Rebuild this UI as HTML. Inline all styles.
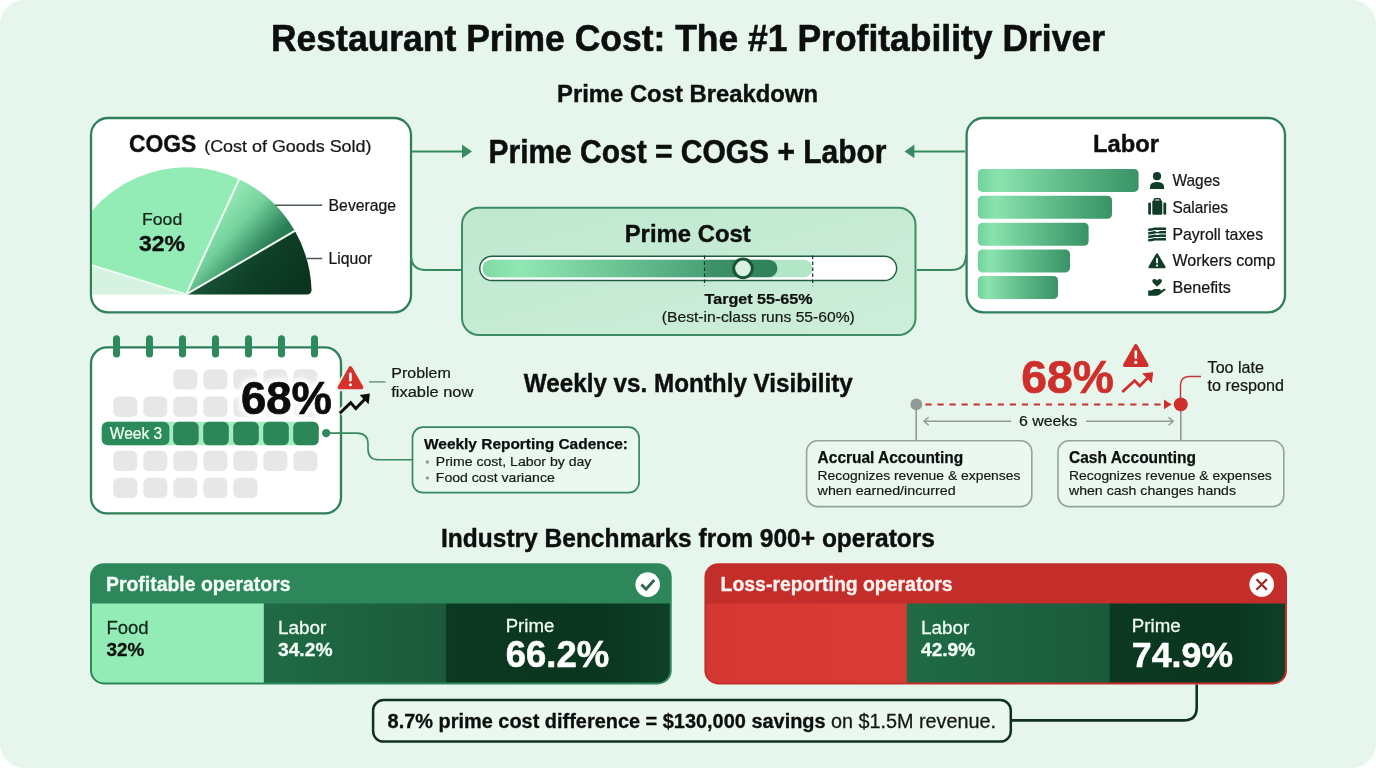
<!DOCTYPE html>
<html lang="en"><head><meta charset="utf-8"><title>Restaurant Prime Cost: The #1 Profitability Driver</title>
<style>
html,body{margin:0;padding:0;background:#fff;}
body{width:1376px;height:768px;overflow:hidden;font-family:"Liberation Sans",sans-serif;}
svg{display:block;}
svg text{font-family:"Liberation Sans",sans-serif;}
</style></head><body>
<svg width="1376" height="768" viewBox="0 0 1376 768">
<defs>
<linearGradient id="gBev" gradientUnits="userSpaceOnUse" x1="222" y1="211" x2="265" y2="251">
 <stop offset="0" stop-color="#8fe4b1"/><stop offset="0.4" stop-color="#74d19b"/><stop offset="0.8" stop-color="#3f976b"/><stop offset="1" stop-color="#2a7d54"/>
</linearGradient>
<linearGradient id="gLiq" gradientUnits="userSpaceOnUse" x1="225" y1="250" x2="290" y2="300">
 <stop offset="0" stop-color="#185337"/><stop offset="0.5" stop-color="#0e3e26"/><stop offset="1" stop-color="#0a3520"/>
</linearGradient>
<linearGradient id="gBar" x1="0" y1="0" x2="1" y2="0">
 <stop offset="0" stop-color="#70d39b"/><stop offset="0.13" stop-color="#8ae3ae"/><stop offset="0.55" stop-color="#5fbb89"/><stop offset="1" stop-color="#399366"/>
</linearGradient>
<linearGradient id="gPC" x1="0" y1="0" x2="1" y2="1">
 <stop offset="0" stop-color="#bfe8cf"/><stop offset="1" stop-color="#cdeeda"/>
</linearGradient>
<linearGradient id="gSl" gradientUnits="userSpaceOnUse" x1="482" y1="0" x2="778" y2="0">
 <stop offset="0" stop-color="#7fd8a3"/><stop offset="0.13" stop-color="#91e7b3"/><stop offset="0.75" stop-color="#4ba277"/><stop offset="0.76" stop-color="#3f946a"/><stop offset="1" stop-color="#2c7f56"/>
</linearGradient>
<filter id="fBlur" x="-20%" y="-30%" width="140%" height="160%"><feGaussianBlur stdDeviation="2.2"/></filter>
<linearGradient id="gLab" x1="0" y1="0" x2="1" y2="0"><stop offset="0" stop-color="#206b46"/><stop offset="1" stop-color="#1a5a3b"/></linearGradient>
<linearGradient id="gPri" x1="0" y1="0" x2="1" y2="0"><stop offset="0" stop-color="#0c3921"/><stop offset="0.65" stop-color="#0a351f"/><stop offset="1" stop-color="#0f4028"/></linearGradient>
<linearGradient id="gRed" x1="0" y1="0" x2="1" y2="0"><stop offset="0" stop-color="#d53732"/><stop offset="1" stop-color="#d93c35"/></linearGradient>
<clipPath id="cCogs"><rect x="92" y="119" width="318" height="192" rx="16"/></clipPath>
<clipPath id="cSl"><rect x="482" y="259" width="413" height="19.5" rx="9.75"/></clipPath>
<clipPath id="cProf"><rect x="92" y="565.2" width="577.7" height="117.2" rx="12"/></clipPath>
<clipPath id="cLoss"><rect x="706.4" y="565.2" width="578.6" height="117.2" rx="12"/></clipPath>
</defs>
<rect width="1376" height="768" fill="#ffffff"/>
<rect width="1376" height="768" rx="24" fill="#e7f6ed"/>
<text x="271" y="51.3" font-size="37" font-weight="700" fill="#0d0f0e" text-anchor="start" textLength="834" lengthAdjust="spacingAndGlyphs" stroke="#0d0f0e" stroke-width="0.59">Restaurant Prime Cost: The #1 Profitability Driver</text>
<text x="557" y="102.3" font-size="24.5" font-weight="700" fill="#0d0f0e" text-anchor="start" textLength="261" lengthAdjust="spacingAndGlyphs" stroke="#0d0f0e" stroke-width="0.39">Prime Cost Breakdown</text>
<rect x="91" y="118" width="320" height="194.3" rx="17" fill="#fff" stroke="#2f8059" stroke-width="2.3"/>
<g clip-path="url(#cCogs)"><g transform="translate(186.2 0) scale(0.987 1) translate(-186.2 0)">
<path d="M186.2,294.4 L64.65,257.24 A127.1,127.1 0 0 0 59.10,294.40 Z" fill="#d6f3e1"/>
<path d="M186.2,294.4 L239.91,179.21 A127.1,127.1 0 0 0 64.65,257.24 Z" fill="#93ebb6"/>
<path d="M186.2,294.4 L296.27,230.85 A127.1,127.1 0 0 0 239.91,179.21 Z" fill="url(#gBev)"/>
<path d="M186.2,294.4 L308.29999999999995,294.4 Q313.29999999999995,294.4 313.21,289.52 A127.1,127.1 0 0 0 296.27,230.85 Z" fill="url(#gLiq)"/>
<line x1="186.2" y1="294.4" x2="297.14" y2="230.35" stroke="#f0fbf4" stroke-width="2"/>
<line x1="186.2" y1="294.4" x2="240.34" y2="178.30" stroke="#f0fbf4" stroke-width="2"/>
<line x1="186.2" y1="294.4" x2="63.70" y2="256.95" stroke="#f0fbf4" stroke-width="2"/>
</g></g>
<text x="129" y="152.3" font-size="24" font-weight="700" fill="#0d0f0e" text-anchor="start" textLength="67.3" lengthAdjust="spacingAndGlyphs" stroke="#0d0f0e" stroke-width="0.38">COGS</text>
<text x="204.2" y="152.3" font-size="16.6" font-weight="400" fill="#141715" text-anchor="start" textLength="167.3" lengthAdjust="spacingAndGlyphs" stroke="#141715" stroke-width="0.23">(Cost of Goods Sold)</text>
<text x="142" y="224.9" font-size="16.6" font-weight="400" fill="#12251a" text-anchor="start" textLength="40.2" lengthAdjust="spacingAndGlyphs" stroke="#12251a" stroke-width="0.23">Food</text>
<text x="139" y="251" font-size="22.8" font-weight="700" fill="#0d0f0e" text-anchor="start" textLength="46" lengthAdjust="spacingAndGlyphs" stroke="#0d0f0e" stroke-width="0.36">32%</text>
<text x="328.6" y="210.6" font-size="15.8" font-weight="400" fill="#141715" text-anchor="start" textLength="67.5" lengthAdjust="spacingAndGlyphs" stroke="#141715" stroke-width="0.22">Beverage</text>
<text x="328.6" y="264.2" font-size="15.8" font-weight="400" fill="#141715" text-anchor="start" textLength="43.7" lengthAdjust="spacingAndGlyphs" stroke="#141715" stroke-width="0.22">Liquor</text>
<line x1="275" y1="205.2" x2="322.3" y2="205.2" stroke="#4d5852" stroke-width="1.5"/>
<line x1="307" y1="258.5" x2="322.3" y2="258.5" stroke="#4d5852" stroke-width="1.5"/>
<path d="M412,151.4 H463" stroke="#37895f" stroke-width="2" fill="none"/>
<path d="M462,144.6 L472,151.4 L462,158.2 Z" fill="#37895f"/>
<path d="M965,151.4 H914" stroke="#37895f" stroke-width="2" fill="none"/>
<path d="M914.4,144.6 L904.6,151.4 L914.4,158.2 Z" fill="#37895f"/>
<path d="M411,255 Q411,270 426,270 H461" stroke="#37895f" stroke-width="2" fill="none"/>
<path d="M966,255 Q966,270 951,270 H917" stroke="#37895f" stroke-width="2" fill="none"/>
<text x="488.5" y="163" font-size="32.5" font-weight="700" fill="#0d0f0e" text-anchor="start" textLength="398" lengthAdjust="spacingAndGlyphs" stroke="#0d0f0e" stroke-width="0.52">Prime Cost = COGS + Labor</text>
<rect x="462" y="207.7" width="453.5" height="127.3" rx="17" fill="url(#gPC)" stroke="#3d8c63" stroke-width="2"/>
<text x="624.7" y="242" font-size="24.5" font-weight="700" fill="#0d0f0e" text-anchor="start" textLength="126" lengthAdjust="spacingAndGlyphs" stroke="#0d0f0e" stroke-width="0.39">Prime Cost</text>
<rect x="479.8" y="256.2" width="416.8" height="24.3" rx="12.15" fill="#fff" stroke="#1f5e40" stroke-width="1.4"/>
<rect x="482.6" y="259.7" width="330" height="17.6" rx="8.8" fill="#b3e5c7"/>
<rect x="482.6" y="259.7" width="294.8" height="17.6" rx="8.8" fill="url(#gSl)"/>
<line x1="704.5" y1="255.5" x2="704.5" y2="286" stroke="#123524" stroke-width="1.2" stroke-dasharray="3.5 2.5"/>
<line x1="812.7" y1="255.5" x2="812.7" y2="286" stroke="#123524" stroke-width="1.2" stroke-dasharray="3.5 2.5"/>
<circle cx="743" cy="268.4" r="9.3" fill="#d9f2e3" stroke="#1a5439" stroke-width="3"/>
<text x="704.6" y="303.9" font-size="15.2" font-weight="700" fill="#0d0f0e" text-anchor="start" textLength="108" lengthAdjust="spacingAndGlyphs" stroke="#0d0f0e" stroke-width="0.24">Target 55-65%</text>
<text x="661.8" y="322.2" font-size="14.6" font-weight="400" fill="#141715" text-anchor="start" textLength="193" lengthAdjust="spacingAndGlyphs" stroke="#141715" stroke-width="0.20">(Best-in-class runs 55-60%)</text>
<rect x="966.6" y="118" width="318.4" height="194.3" rx="17" fill="#fff" stroke="#2f8059" stroke-width="2.3"/>
<text x="1093" y="152.4" font-size="24.5" font-weight="700" fill="#0d0f0e" text-anchor="start" textLength="66" lengthAdjust="spacingAndGlyphs" stroke="#0d0f0e" stroke-width="0.39">Labor</text>
<rect x="977.8" y="168.9" width="160.8" height="23" rx="4.5" fill="url(#gBar)"/>
<rect x="977.8" y="195.8" width="134.2" height="23" rx="4.5" fill="url(#gBar)"/>
<rect x="977.8" y="222.7" width="110.8" height="23" rx="4.5" fill="url(#gBar)"/>
<rect x="977.8" y="249.4" width="92.2" height="23" rx="4.5" fill="url(#gBar)"/>
<rect x="977.8" y="276" width="80.2" height="23" rx="4.5" fill="url(#gBar)"/>
<text x="1172.4" y="185.9" font-size="15.9" font-weight="400" fill="#141715" text-anchor="start" textLength="47.7" lengthAdjust="spacingAndGlyphs" stroke="#141715" stroke-width="0.22">Wages</text>
<text x="1172.4" y="212.8" font-size="15.9" font-weight="400" fill="#141715" text-anchor="start" textLength="55.6" lengthAdjust="spacingAndGlyphs" stroke="#141715" stroke-width="0.22">Salaries</text>
<text x="1172.4" y="239.6" font-size="15.9" font-weight="400" fill="#141715" text-anchor="start" textLength="90.7" lengthAdjust="spacingAndGlyphs" stroke="#141715" stroke-width="0.22">Payroll taxes</text>
<text x="1172.4" y="266.4" font-size="15.9" font-weight="400" fill="#141715" text-anchor="start" textLength="103" lengthAdjust="spacingAndGlyphs" stroke="#141715" stroke-width="0.22">Workers comp</text>
<text x="1172.4" y="293.2" font-size="15.9" font-weight="400" fill="#141715" text-anchor="start" textLength="58.4" lengthAdjust="spacingAndGlyphs" stroke="#141715" stroke-width="0.22">Benefits</text>
<circle cx="1157" cy="176.2" r="4.1" fill="#0f3d27"/>
<path d="M1150,188.4 Q1149.9,186 1150.6,184.6 Q1151.8,181.9 1157,181.9 Q1162.2,181.9 1163.4,184.6 Q1164.2,186 1164.1,188.4 Q1164.1,188.9 1163.4,188.9 H1150.7 Q1150,188.9 1150,188.4 Z" fill="#0f3d27"/>
<g fill="#0f3d27"><rect x="1148.2" y="202.4" width="2.8" height="12.3" rx="1.3"/><rect x="1152.3" y="200.6" width="10" height="14.1" rx="1.2"/><rect x="1163.4" y="202.4" width="2.8" height="12.3" rx="1.3"/><path d="M1153.6,201 V199.6 Q1153.6,198 1155.2,198 H1159.4 Q1161,198 1161,199.6 V201 H1159.5 V199.5 H1155.1 V201 Z"/></g>
<path d="M1148.2,228.60 Q1151.5,228.50 1154.5,227.60 H1166 V230.10 H1155 Q1151.5,230.90 1148.2,231.10 Z" fill="#0f3d27"/>
<path d="M1148.2,232.10 Q1151.5,232.00 1154.5,231.10 H1166 V233.60 H1155 Q1151.5,234.40 1148.2,234.60 Z" fill="#0f3d27"/>
<path d="M1148.2,235.60 Q1151.5,235.50 1154.5,234.60 H1166 V237.10 H1155 Q1151.5,237.90 1148.2,238.10 Z" fill="#0f3d27"/>
<path d="M1148.2,239.10 Q1151.5,239.00 1154.5,238.10 H1166 V240.60 H1155 Q1151.5,241.40 1148.2,241.60 Z" fill="#0f3d27"/>
<rect x="1155.6" y="230.3" width="3.6" height="1.6" fill="#fff"/><rect x="1155.6" y="233.6" width="3.6" height="1.4" fill="#fff"/><rect x="1155.6" y="237" width="3.6" height="1.2" fill="#fff"/>
<path d="M1157,254.6 L1164.4,267 H1149.6 Z" fill="#0f3d27" stroke="#0f3d27" stroke-width="2.4" stroke-linejoin="round"/>
<rect x="1156.1" y="257.8" width="1.9" height="5.6" rx="0.9" fill="#fff"/><circle cx="1157" cy="265.6" r="1.1" fill="#fff"/>
<path d="M1157.1,286.6 C1155,284.8 1152.3,282.9 1152.3,281 C1152.3,279 1155.2,278.3 1157.1,280.4 C1159,278.3 1161.9,279 1161.9,281 C1161.9,282.9 1159.2,284.8 1157.1,286.6 Z" fill="#0f3d27"/>
<path d="M1148.2,290.6 H1151.2 L1154.6,289 H1159.6 Q1161.2,289.2 1160.6,290.7 L1163.6,289 Q1165.8,288.3 1165.5,290 L1159.4,294.8 Q1157.8,295.8 1155.6,295.8 H1148.2 Z" fill="#0f3d27"/>
<rect x="91" y="347.4" width="250" height="166" rx="16" fill="#fff" stroke="#2f8059" stroke-width="2.3"/>
<rect x="113.0" y="335.3" width="7" height="22.2" rx="3.5" fill="#2e8a5c"/>
<rect x="146.0" y="335.3" width="7" height="22.2" rx="3.5" fill="#2e8a5c"/>
<rect x="179.0" y="335.3" width="7" height="22.2" rx="3.5" fill="#2e8a5c"/>
<rect x="212.0" y="335.3" width="7" height="22.2" rx="3.5" fill="#2e8a5c"/>
<rect x="245.0" y="335.3" width="7" height="22.2" rx="3.5" fill="#2e8a5c"/>
<rect x="278.0" y="335.3" width="7" height="22.2" rx="3.5" fill="#2e8a5c"/>
<rect x="311.0" y="335.3" width="7" height="22.2" rx="3.5" fill="#2e8a5c"/>
<rect x="173.3" y="369.3" width="24" height="20.3" rx="5.5" fill="#e7e7e7"/>
<rect x="203.4" y="369.3" width="24" height="20.3" rx="5.5" fill="#e7e7e7"/>
<rect x="233.4" y="369.3" width="24" height="20.3" rx="5.5" fill="#e7e7e7"/>
<rect x="263.4" y="369.3" width="24" height="20.3" rx="5.5" fill="#e7e7e7"/>
<rect x="293.4" y="369.3" width="24" height="20.3" rx="5.5" fill="#e7e7e7"/>
<rect x="113.3" y="396.6" width="24" height="20.3" rx="5.5" fill="#e7e7e7"/>
<rect x="143.3" y="396.6" width="24" height="20.3" rx="5.5" fill="#e7e7e7"/>
<rect x="173.3" y="396.6" width="24" height="20.3" rx="5.5" fill="#e7e7e7"/>
<rect x="203.4" y="396.6" width="24" height="20.3" rx="5.5" fill="#e7e7e7"/>
<rect x="233.4" y="396.6" width="24" height="20.3" rx="5.5" fill="#e7e7e7"/>
<rect x="263.4" y="396.6" width="24" height="20.3" rx="5.5" fill="#e7e7e7"/>
<rect x="293.4" y="396.6" width="24" height="20.3" rx="5.5" fill="#e7e7e7"/>
<rect x="113.3" y="450.8" width="24" height="20.3" rx="5.5" fill="#e7e7e7"/>
<rect x="143.3" y="450.8" width="24" height="20.3" rx="5.5" fill="#e7e7e7"/>
<rect x="173.3" y="450.8" width="24" height="20.3" rx="5.5" fill="#e7e7e7"/>
<rect x="203.4" y="450.8" width="24" height="20.3" rx="5.5" fill="#e7e7e7"/>
<rect x="233.4" y="450.8" width="24" height="20.3" rx="5.5" fill="#e7e7e7"/>
<rect x="263.4" y="450.8" width="24" height="20.3" rx="5.5" fill="#e7e7e7"/>
<rect x="293.4" y="450.8" width="24" height="20.3" rx="5.5" fill="#e7e7e7"/>
<rect x="113.3" y="477.8" width="24" height="20.3" rx="5.5" fill="#e7e7e7"/>
<rect x="143.3" y="477.8" width="24" height="20.3" rx="5.5" fill="#e7e7e7"/>
<rect x="173.3" y="477.8" width="24" height="20.3" rx="5.5" fill="#e7e7e7"/>
<rect x="203.4" y="477.8" width="24" height="20.3" rx="5.5" fill="#e7e7e7"/>
<rect x="233.4" y="477.8" width="24" height="20.3" rx="5.5" fill="#e7e7e7"/>
<rect x="102" y="421.8" width="216.3" height="23.5" rx="6" fill="#a4ebbf"/>
<rect x="101.7" y="421.8" width="67.7" height="23.5" rx="6" fill="#2b8a5a"/>
<rect x="173.1" y="421.8" width="25.6" height="23.5" rx="5.5" fill="#2b8757"/>
<rect x="203.2" y="421.8" width="25.6" height="23.5" rx="5.5" fill="#2b8757"/>
<rect x="233.2" y="421.8" width="25.6" height="23.5" rx="5.5" fill="#2b8757"/>
<rect x="263.2" y="421.8" width="25.6" height="23.5" rx="5.5" fill="#2b8757"/>
<rect x="293.2" y="421.8" width="25.6" height="23.5" rx="5.5" fill="#2b8757"/>
<text x="109.8" y="439.4" font-size="16" font-weight="400" fill="#f2fff6" text-anchor="start" textLength="52.4" lengthAdjust="spacingAndGlyphs" stroke="#f2fff6" stroke-width="0.22">Week 3</text>
<text x="241" y="414" font-size="45.5" font-weight="700" fill="#ffffff" text-anchor="start" textLength="91" lengthAdjust="spacingAndGlyphs" stroke="#fff" stroke-width="9" stroke-linejoin="round" filter="url(#fBlur)" opacity="0.92">68%</text>
<text x="241" y="414" font-size="45.5" font-weight="700" fill="#0b0d0c" text-anchor="start" textLength="91" lengthAdjust="spacingAndGlyphs" stroke="#0b0d0c" stroke-width="0.73">68%</text>
<path d="M350.4,368 L361.6,387.5 H339.4 Z" fill="#e7f6ed" stroke="#e7f6ed" stroke-width="7.5" stroke-linejoin="round"/>
<path d="M350.4,368 L361.6,387.5 H339.4 Z" fill="#d5322c" stroke="#d5322c" stroke-width="3.6" stroke-linejoin="round"/>
<rect x="349.1" y="372.6" width="2.6" height="9" rx="1.3" fill="#fff"/><circle cx="350.4" cy="384.7" r="1.55" fill="#fff"/>
<path d="M339.8,413.3 L350.7,402.6 L355.8,408.6 L365,399" fill="none" stroke="#e7f6ed" stroke-width="7"/>
<path d="M339.8,413.3 L350.7,402.6 L355.8,408.6 L365,399" fill="none" stroke="#0b0d0c" stroke-width="3" stroke-linejoin="miter"/>
<path d="M369.9,393.4 L368.6,404.2 L359.6,394.9 Z" fill="#0b0d0c"/>
<line x1="369" y1="381.9" x2="385.5" y2="381.9" stroke="#7ba28d" stroke-width="1.7"/>
<text x="391.3" y="378" font-size="15.5" font-weight="400" fill="#141715" text-anchor="start" textLength="59.5" lengthAdjust="spacingAndGlyphs" stroke="#141715" stroke-width="0.22">Problem</text>
<text x="391.3" y="396.6" font-size="15.5" font-weight="400" fill="#141715" text-anchor="start" textLength="82" lengthAdjust="spacingAndGlyphs" stroke="#141715" stroke-width="0.22">fixable now</text>
<circle cx="326.2" cy="433.1" r="4.2" fill="#2e8a5c"/>
<path d="M326,433.1 H357 Q368,433.1 368,444 V449 Q368,459.8 379,459.8 H412" stroke="#37895f" stroke-width="1.6" fill="none"/>
<rect x="412.5" y="427.2" width="226.6" height="65.4" rx="10.5" fill="#ebf8f0" stroke="#378862" stroke-width="1.7"/>
<text x="424" y="449.4" font-size="15.4" font-weight="700" fill="#0d0f0e" text-anchor="start" textLength="204" lengthAdjust="spacingAndGlyphs" stroke="#0d0f0e" stroke-width="0.25">Weekly Reporting Cadence:</text>
<text x="435.8" y="465.6" font-size="13.4" font-weight="400" fill="#141715" text-anchor="start" textLength="155.6" lengthAdjust="spacingAndGlyphs" stroke="#141715" stroke-width="0.19">Prime cost, Labor by day</text>
<text x="435.8" y="481.7" font-size="13.4" font-weight="400" fill="#141715" text-anchor="start" textLength="119" lengthAdjust="spacingAndGlyphs" stroke="#141715" stroke-width="0.19">Food cost variance</text>
<circle cx="427.4" cy="462" r="1.7" fill="#8c9a92"/><circle cx="427.4" cy="477.9" r="1.7" fill="#8c9a92"/>
<text x="523.8" y="392.4" font-size="25.5" font-weight="700" fill="#0d0f0e" text-anchor="start" textLength="329" lengthAdjust="spacingAndGlyphs" stroke="#0d0f0e" stroke-width="0.41">Weekly vs. Monthly Visibility</text>
<line x1="916.2" y1="404" x2="916.2" y2="440.5" stroke="#8f9b95" stroke-width="1.6"/>
<line x1="1180.8" y1="404" x2="1180.8" y2="440.5" stroke="#8f9b95" stroke-width="1.6"/>
<circle cx="916.3" cy="404.4" r="5.9" fill="#8f9b95"/>
<line x1="925.4" y1="404.4" x2="1162" y2="404.4" stroke="#c9302d" stroke-width="2" stroke-dasharray="6.2 5.85"/>
<path d="M1164,399.5 L1171.6,404.4 L1164,409.3 Z" fill="#cf2f2c"/>
<path d="M1180.5,398 V385.5 Q1180.5,376.6 1189.5,376.6 H1201" stroke="#bf3b37" stroke-width="1.5" fill="none"/>
<circle cx="1180.8" cy="404.4" r="7" fill="#cf2f2c"/>
<g stroke="#8f9b95" stroke-width="1.5" fill="none"><path d="M924,421.2 H1011"/><path d="M928.6,417.2 L924,421.2 L928.6,425.2"/><path d="M1086,421.2 H1173"/><path d="M1168.6,417.2 L1173.2,421.2 L1168.6,425.2"/></g>
<text x="1018.9" y="426.3" font-size="15.4" font-weight="400" fill="#141715" text-anchor="start" textLength="58.4" lengthAdjust="spacingAndGlyphs" stroke="#141715" stroke-width="0.22">6 weeks</text>
<text x="1021.3" y="393.2" font-size="45.5" font-weight="700" fill="#cf2f2c" text-anchor="start" textLength="92.6" lengthAdjust="spacingAndGlyphs" stroke="#cf2f2c" stroke-width="0.73">68%</text>
<path d="M1135.8,345.7 L1146.9,365.2 H1124.7 Z" fill="#cf2f2c" stroke="#cf2f2c" stroke-width="3.4" stroke-linejoin="round"/>
<rect x="1134.5" y="350.3" width="2.6" height="8.6" rx="1.3" fill="#fff"/><circle cx="1135.8" cy="362.4" r="1.55" fill="#fff"/>
<path d="M1122.3,392 L1134.6,380.6 L1139.8,386 L1148.5,377" fill="none" stroke="#cf2f2c" stroke-width="2.8"/>
<path d="M1153.2,372.3 L1151.8,383.2 L1142,373.2 Z" fill="#cf2f2c"/>
<text x="1207.6" y="372.6" font-size="15.7" font-weight="400" fill="#141715" text-anchor="start" textLength="56.4" lengthAdjust="spacingAndGlyphs" stroke="#141715" stroke-width="0.22">Too late</text>
<text x="1207.6" y="391.1" font-size="15.7" font-weight="400" fill="#141715" text-anchor="start" textLength="76.3" lengthAdjust="spacingAndGlyphs" stroke="#141715" stroke-width="0.22">to respond</text>
<rect x="806.6" y="440.8" width="225.2" height="65.8" rx="11" fill="#ebf8f0" stroke="#93a59b" stroke-width="1.6"/>
<rect x="1058" y="440.8" width="225.8" height="65.8" rx="11" fill="#ebf8f0" stroke="#93a59b" stroke-width="1.6"/>
<text x="817.6" y="463.3" font-size="15.6" font-weight="700" fill="#0d0f0e" text-anchor="start" textLength="145.6" lengthAdjust="spacingAndGlyphs" stroke="#0d0f0e" stroke-width="0.25">Accrual Accounting</text>
<text x="817.6" y="480" font-size="13.5" font-weight="400" fill="#141715" text-anchor="start" textLength="202.8" lengthAdjust="spacingAndGlyphs" stroke="#141715" stroke-width="0.19">Recognizes revenue &amp; expenses</text>
<text x="817.6" y="495.2" font-size="13.5" font-weight="400" fill="#141715" text-anchor="start" textLength="138" lengthAdjust="spacingAndGlyphs" stroke="#141715" stroke-width="0.19">when earned/incurred</text>
<text x="1069" y="463.2" font-size="15.6" font-weight="700" fill="#0d0f0e" text-anchor="start" textLength="127" lengthAdjust="spacingAndGlyphs" stroke="#0d0f0e" stroke-width="0.25">Cash Accounting</text>
<text x="1069" y="480" font-size="13.5" font-weight="400" fill="#141715" text-anchor="start" textLength="202.8" lengthAdjust="spacingAndGlyphs" stroke="#141715" stroke-width="0.19">Recognizes revenue &amp; expenses</text>
<text x="1069" y="495.2" font-size="13.5" font-weight="400" fill="#141715" text-anchor="start" textLength="167" lengthAdjust="spacingAndGlyphs" stroke="#141715" stroke-width="0.19">when cash changes hands</text>
<text x="441" y="546.5" font-size="25.5" font-weight="700" fill="#0d0f0e" text-anchor="start" textLength="494" lengthAdjust="spacingAndGlyphs" stroke="#0d0f0e" stroke-width="0.41">Industry Benchmarks from 900+ operators</text>
<rect x="90" y="563.2" width="581.7" height="121.2" rx="14" fill="#2d875a"/>
<g clip-path="url(#cProf)">
<rect x="90" y="603.5" width="174" height="90" fill="#93ecb6"/>
<rect x="263.8" y="603.5" width="182.2" height="90" fill="url(#gLab)"/>
<rect x="446" y="603.5" width="230" height="90" fill="url(#gPri)"/>
</g>
<text x="106" y="591.4" font-size="19.5" font-weight="700" fill="#f4fff8" text-anchor="start" textLength="184.5" lengthAdjust="spacingAndGlyphs" stroke="#f4fff8" stroke-width="0.31">Profitable operators</text>
<circle cx="647.7" cy="584.6" r="12.3" fill="#fff"/>
<path d="M641.4,584.6 L646,589.3 L654.3,580" fill="none" stroke="#2d6a4c" stroke-width="2.8" stroke-linecap="butt" stroke-linejoin="miter"/>
<text x="106.4" y="633.7" font-size="18.3" font-weight="400" fill="#12251a" text-anchor="start" textLength="42.3" lengthAdjust="spacingAndGlyphs" stroke="#12251a" stroke-width="0.26">Food</text>
<text x="106.4" y="655.8" font-size="18.6" font-weight="700" fill="#0d0f0e" text-anchor="start" textLength="37.8" lengthAdjust="spacingAndGlyphs" stroke="#0d0f0e" stroke-width="0.30">32%</text>
<text x="278" y="633.7" font-size="18.3" font-weight="400" fill="#f2fff6" text-anchor="start" textLength="48.4" lengthAdjust="spacingAndGlyphs" stroke="#f2fff6" stroke-width="0.26">Labor</text>
<text x="278" y="655.8" font-size="18.6" font-weight="700" fill="#f2fff6" text-anchor="start" textLength="54.5" lengthAdjust="spacingAndGlyphs" stroke="#f2fff6" stroke-width="0.30">34.2%</text>
<text x="505.7" y="631.9" font-size="18.4" font-weight="400" fill="#f2fff6" text-anchor="start" textLength="48.6" lengthAdjust="spacingAndGlyphs" stroke="#f2fff6" stroke-width="0.26">Prime</text>
<text x="505.7" y="666.8" font-size="36" font-weight="700" fill="#ffffff" text-anchor="start" textLength="103.5" lengthAdjust="spacingAndGlyphs" stroke="#ffffff" stroke-width="0.58">66.2%</text>
<rect x="704.4" y="563.2" width="582.6" height="121.2" rx="14" fill="#c32e2b"/>
<g clip-path="url(#cLoss)">
<rect x="704" y="603.5" width="203" height="90" fill="url(#gRed)"/>
<rect x="906.8" y="603.5" width="203.2" height="90" fill="url(#gLab)"/>
<rect x="1109.6" y="603.5" width="180" height="90" fill="url(#gPri)"/>
</g>
<text x="720.6" y="591.4" font-size="19.5" font-weight="700" fill="#fff4f2" text-anchor="start" textLength="232" lengthAdjust="spacingAndGlyphs" stroke="#fff4f2" stroke-width="0.31">Loss-reporting operators</text>
<circle cx="1261.7" cy="584.5" r="12.3" fill="#fff"/>
<path d="M1256.5,579.3 L1266.9,589.7 M1266.9,579.3 L1256.5,589.7" fill="none" stroke="#9e2a28" stroke-width="2.3" stroke-linecap="butt"/>
<text x="921" y="633.5" font-size="18.3" font-weight="400" fill="#f2fff6" text-anchor="start" textLength="48.4" lengthAdjust="spacingAndGlyphs" stroke="#f2fff6" stroke-width="0.26">Labor</text>
<text x="921" y="655.5" font-size="18.6" font-weight="700" fill="#f2fff6" text-anchor="start" textLength="54.3" lengthAdjust="spacingAndGlyphs" stroke="#f2fff6" stroke-width="0.30">42.9%</text>
<text x="1131.8" y="632" font-size="18.3" font-weight="400" fill="#f2fff6" text-anchor="start" textLength="48.8" lengthAdjust="spacingAndGlyphs" stroke="#f2fff6" stroke-width="0.26">Prime</text>
<text x="1131.8" y="666.5" font-size="35.8" font-weight="700" fill="#ffffff" text-anchor="start" textLength="101.3" lengthAdjust="spacingAndGlyphs" stroke="#ffffff" stroke-width="0.57">74.9%</text>
<path d="M1196.7,684.4 V707.5 Q1196.7,720.4 1183.7,720.4 H1011.8" stroke="#0f3022" stroke-width="2.6" fill="none"/>
<rect x="373.1" y="700.1" width="637.7" height="41.5" rx="10.5" fill="#ebf8f0" stroke="#0f3022" stroke-width="2.5"/>
<text x="387.6" y="728.2" font-size="19.5" font-weight="700" fill="#0d0f0e" text-anchor="start" textLength="438" lengthAdjust="spacingAndGlyphs" stroke="#0d0f0e" stroke-width="0.31">8.7% prime cost difference = $130,000 savings</text>
<text x="831" y="728.2" font-size="19.5" font-weight="400" fill="#141715" text-anchor="start" textLength="165" lengthAdjust="spacingAndGlyphs" stroke="#141715" stroke-width="0.27">on $1.5M revenue.</text>
</svg>
</body></html>
